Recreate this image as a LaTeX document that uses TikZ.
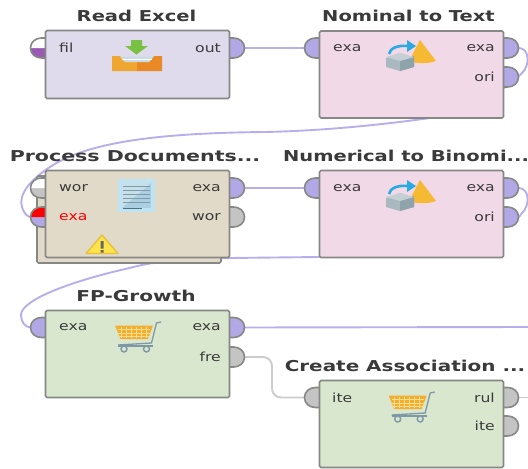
\documentclass[tikz,border=0pt]{standalone}
\usepackage{fontspec}
\setmainfont{DejaVu Sans}
\usetikzlibrary{backgrounds}
\pgfdeclarelayer{bottom}
\pgfsetlayers{bottom,background,main}
\definecolor{lil}{HTML}{B3A8E6}
\definecolor{wirel}{HTML}{B9AEEC}
\definecolor{gry}{HTML}{C4C4C4}
\definecolor{wireg}{HTML}{CCCCCC}
\definecolor{edge}{HTML}{858885}
\definecolor{txt}{HTML}{3A3A3A}
\definecolor{cread}{HTML}{DFDBEC}
\definecolor{cpink}{HTML}{F2D9E8}
\definecolor{ctan}{HTML}{E2DAC8}
\definecolor{cgreen}{HTML}{D9E7CE}
\definecolor{purp}{HTML}{9B59B6}
\definecolor{cone}{HTML}{F5B933}
\definecolor{cubea}{HTML}{A9B9BF}
\definecolor{cubeb}{HTML}{8FA3AB}
\definecolor{cubec}{HTML}{C4D0D4}
\definecolor{sky}{HTML}{29ABE2}
\definecolor{cartor}{HTML}{F5AE2B}
\definecolor{cartli}{HTML}{FBDD96}
\definecolor{cartgr}{HTML}{7F98A6}
\definecolor{grn}{HTML}{79C143}
\definecolor{traya}{HTML}{F0A732}
\definecolor{trayb}{HTML}{E98A26}
\definecolor{trayc}{HTML}{C9DCE3}
\definecolor{doca}{HTML}{BFE3F3}
\definecolor{docb}{HTML}{A9CFE0}
\definecolor{docc}{HTML}{C7DFE9}
\definecolor{docl}{HTML}{7F9AA8}
\definecolor{docd}{HTML}{55707E}
\definecolor{warna}{HTML}{FFE34D}
\definecolor{warnb}{HTML}{E3C23A}
\definecolor{warnc}{HTML}{666666}
\tikzset{
  opbox/.style={draw=edge,line width=1.6pt,rounded corners=1.5pt,inner sep=0pt,minimum width=184pt},
  optitle/.style={font=\fontsize{15}{15}\selectfont\bfseries,text=txt,inner sep=0pt},
  plabel/.style={font=\fontsize{12.5}{12.5}\selectfont,text=txt,inner sep=0pt},
  wirelil/.style={draw=wirel,line width=1.9pt},
  wiregry/.style={draw=wireg,line width=1.9pt,rounded corners=9pt},
}
% name, edge x, y, direction, top colour, bottom colour
\newcommand{\prt}[6]{%
  \begin{scope}[shift={(#2,#3)},xscale=#4]
    \fill[#6] (-1,-10) -- (4,-10) .. controls (10,-10) and (15,-6) .. (15,0) .. controls (15,6) and (10,10) .. (4,10) -- (-1,10) -- cycle;
    \fill[#5] (-1,-10) -- (4,-10) .. controls (10,-10) and (15,-6) .. (15,0) -- (-1,0) -- cycle;
    \draw[edge,line width=1.6pt] (-1,-10) -- (4,-10) .. controls (10,-10) and (15,-6) .. (15,0) .. controls (15,6) and (10,10) .. (4,10) -- (-1,10);
    \coordinate (#1) at (15,0);
  \end{scope}}
\newcommand{\plab}[4]{\node[plabel,#4] (#1) at (#2) {\scalebox{1.25}[1]{#3}};}
\newcommand{\ttl}[4]{\node[optitle] (#1) at (#2) {\scalebox{#4}[1]{#3}};}
\newcommand{\convicon}[2]{%
  \begin{scope}[shift={(#1,#2)}]
    \fill[cone] (420,40) -- (436,61) .. controls (428,64) and (416,64) .. (409,61) -- cycle;
    \fill[cubea] (386,58) -- (400,53) -- (414,58) -- (414,67) -- (400,71) -- (386,67) -- cycle;
    \fill[cubeb] (400,60) -- (414,56) -- (414,67) -- (400,71) -- cycle;
    \fill[cubec] (386,57) -- (400,53) -- (414,57) -- (400,61) -- cycle;
    \draw[sky,line width=2.6pt] (389,54) .. controls (390,48) and (398,45) .. (408,46);
    \fill[sky] (407,40) -- (416,46) -- (407,52) -- cycle;
  \end{scope}}
\newcommand{\carticon}[2]{%
  \begin{scope}[shift={(#1,#2)}]
    \fill[cartor] (115,325.5) -- (153,325.5) -- (148,339) -- (120.5,339) -- cycle;
    \foreach \q in {121,126,131,136,141,146} \draw[cartli,line width=.7pt] (\q,327) -- (\q,338);
    \foreach \q in {329.5,333,336.5} \draw[cartli,line width=.7pt] (118,\q) -- (150,\q);
    \draw[cartgr,line width=1.3pt] (161,322) -- (156.5,323) -- (151.5,343) -- (118,345);
    \draw[cartgr,line width=2pt] (118,346) -- (153,346);
    \draw[cartgr,line width=1.4pt] (124,349) circle[radius=3pt] (146.5,349) circle[radius=3pt];
  \end{scope}}
\begin{document}
\begin{tikzpicture}[x=1pt,y=-1pt]
\useasboundingbox (0,0) rectangle (528,469);
\begin{pgfonlayer}{bottom}
\fill[white] (0,0) rectangle (528,469);
\end{pgfonlayer}
\node[opbox,fill=ctan,minimum height=87pt] (procback) at (129,219.5) {};
% ports
\prt{readfil}{45.5}{48}{-1}{white}{purp}
\prt{readout}{229.5}{48}{1}{lil}{lil}
\prt{nomin}{319.5}{48}{-1}{lil}{lil}
\prt{nomexa}{503.5}{48}{1}{lil}{lil}
\prt{nomori}{503.5}{77}{1}{lil}{lil}
\prt{procwor}{45.5}{188}{-1}{white}{gry}
\prt{procin}{45.5}{217}{-1}{red}{lil}
\prt{procexa}{229.5}{188}{1}{lil}{lil}
\prt{procwo}{229.5}{217}{1}{gry}{gry}
\prt{numin}{319.5}{188}{-1}{lil}{lil}
\prt{numexa}{503.5}{188}{1}{lil}{lil}
\prt{numori}{503.5}{217}{1}{lil}{lil}
\prt{fpin}{45.5}{327.5}{-1}{lil}{lil}
\prt{fpexa}{229.5}{327.5}{1}{lil}{lil}
\prt{fpfre}{229.5}{357}{1}{gry}{gry}
\prt{crin}{319.5}{397.5}{-1}{gry}{gry}
\prt{crrul}{503.5}{397.5}{1}{gry}{gry}
\prt{crite}{503.5}{426}{1}{gry}{gry}
\coordinate (rightA) at (528,327);
\coordinate (rightB) at (528,397.5);
% boxes
\node[opbox,fill=cread,minimum height=68pt] (read) at (137.5,64.5) {};
\node[opbox,fill=cpink,minimum height=87pt] (nom) at (411.5,74.5) {};
\node[opbox,fill=ctan,minimum height=87pt] (proc) at (137.5,214) {};
\node[opbox,fill=cpink,minimum height=87pt] (num) at (411.5,214) {};
\node[opbox,fill=cgreen,minimum height=87pt] (fp) at (137.5,354) {};
\node[opbox,fill=cgreen,minimum height=87pt] (cr) at (411.5,424) {};
% titles
\ttl{t1}{136.5,16}{Read Excel}{1.3}
\ttl{t2}{408.5,16}{Nominal to Text}{1.3}
\ttl{t3}{135,156}{Process Documents...}{1.37}
\ttl{t4}{406,156}{Numerical to Binomi...}{1.3}
\ttl{t5}{136,296}{FP-Growth}{1.34}
\ttl{t6}{405,366}{Create Association ...}{1.33}
% port labels
\plab{l1}{59,48}{fil}{anchor=west}
\plab{l2}{221,48}{out}{anchor=east}
\plab{l3}{333,48}{exa}{anchor=west}
\plab{l4}{495,48}{exa}{anchor=east}
\plab{l5}{495,77}{ori}{anchor=east}
\plab{l6}{59,188}{wor}{anchor=west}
\plab{l7}{59,217}{\textcolor{red}{exa}}{anchor=west}
\plab{l8}{221,188}{exa}{anchor=east}
\plab{l9}{221,217}{wor}{anchor=east}
\plab{l10}{333,188}{exa}{anchor=west}
\plab{l11}{495,188}{exa}{anchor=east}
\plab{l12}{495,217}{ori}{anchor=east}
\plab{l13}{59,327.5}{exa}{anchor=west}
\plab{l14}{221,327.5}{exa}{anchor=east}
\plab{l15}{221,357}{fre}{anchor=east}
\plab{l16}{332,397.5}{ite}{anchor=west}
\plab{l17}{495,397.5}{rul}{anchor=east}
\plab{l18}{495,426}{ite}{anchor=east}
% read excel icon
\fill[grn] (131,40) -- (142,40) -- (142,46) -- (148,46) -- (136.5,54.5) -- (125,46) -- (131,46) -- cycle;
\fill[traya] (112,56) -- (120,56) -- (125,62) -- (137,62) -- (137,71) -- (112,71) -- cycle;
\fill[trayb] (162,56) -- (154,56) -- (149,62) -- (137,62) -- (137,71) -- (162,71) -- cycle;
\fill[trayc] (120,56.5) -- (154,56.5) -- (149,62) -- (125,62) -- cycle;
\draw[white,line width=.7pt] (122,59) -- (152,59);
% document icon
\fill[doca] (118,179) rectangle (155,212);
\fill[docb] (122,183) rectangle (151,208);
\fill[docc] (122,183) -- (151,183) -- (122,208) -- cycle;
\foreach \q in {186,190,194,198,202} \draw[docl,line width=.7pt] (123,\q) -- (150,\q);
\draw[docd,line width=.8pt] (123,208) -- (142,208);
% warning icon
\fill[warna,draw=warnb,line width=1.3pt,line join=round] (102,235) -- (118,253.5) -- (86,253.5) -- cycle;
\fill[warnc] (100.5,241) rectangle (103.5,248.5) (100.5,250) rectangle (103.5,252.5);
% conversion and cart icons
\convicon{0}{0}
\convicon{0}{140}
\carticon{0}{0}
\carticon{273.7}{70}
% connectors
\begin{scope}[on background layer]
\draw[wirelil] (readout) -- (nomin);
\draw[wirelil] (procexa) -- (numin);
\draw[wirelil] (nomexa) .. controls (530,48) and (530,66) .. (522,73)
  .. controls (505,90) and (470,113) .. (430,118)
  .. controls (380,125) and (320,131) .. (264,132)
  .. controls (170,133) and (90,140) .. (50,167)
  .. controls (30,180) and (18,195) .. (22,207)
  .. controls (24,214) and (28,217) .. (procin);
\draw[wirelil] (numexa) .. controls (530,188) and (530,206) .. (522,213)
  .. controls (505,240) and (400,257) .. (319,257)
  -- (230,258)
  .. controls (200,259) and (170,260) .. (153,263)
  .. controls (140,265) and (130,268) .. (121,270)
  .. controls (70,282) and (21,300) .. (21,315)
  .. controls (21,322) and (25,327) .. (fpin);
\draw[wirelil] (fpexa) -- (rightA);
\draw[wiregry] (fpfre) -- (272,357) -- (272,397.5) -- (crin);
\draw[wiregry] (crrul) -- (rightB);
\end{scope}
\end{tikzpicture}
\end{document}
